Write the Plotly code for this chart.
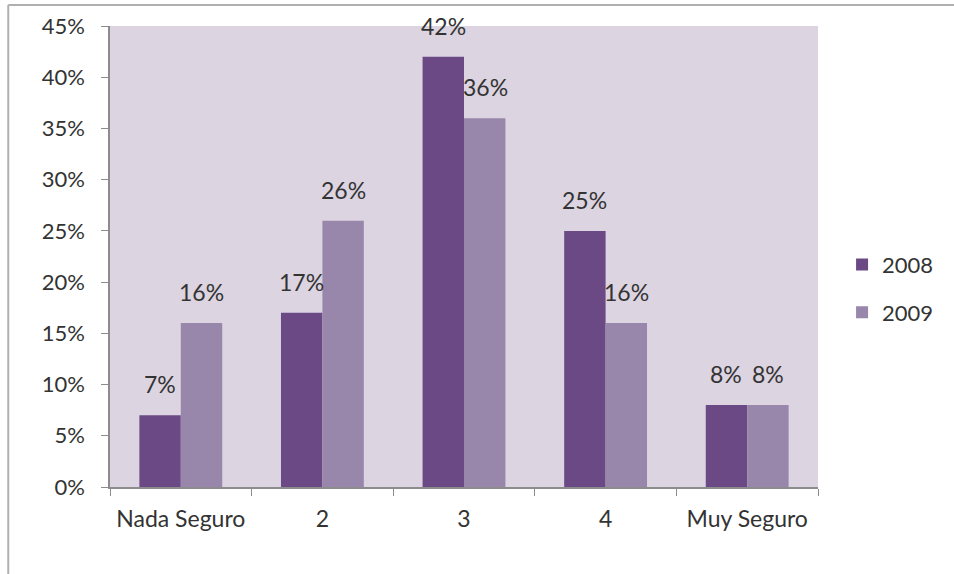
import plotly.graph_objects as go

categories = ["Nada Seguro", "2", "3", "4", "Muy Seguro"]
values_2008 = [7, 17, 42, 25, 8]
values_2009 = [16, 26, 36, 16, 8]
series_names = ["2008", "2009"]
y_ticks = [0, 5, 10, 15, 20, 25, 30, 35, 40, 45]

c2008 = "#6a4985"
c2009 = "#9886ab"
font_family = "Lato, 'Open Sans', sans-serif"
text_color = "#333333"

fig = go.Figure()
fig.add_trace(go.Bar(x=categories, y=values_2008, name=series_names[0],
                     marker=dict(color=c2008, line=dict(width=0)),
                     legendgroup="a"))
fig.add_trace(go.Bar(x=categories, y=values_2009, name=series_names[1],
                     marker=dict(color=c2009, line=dict(width=0)),
                     legendgroup="b"))

annotations = []
for vals, shift in ((values_2008, -21), (values_2009, 21)):
    for i, v in enumerate(vals):
        annotations.append(dict(x=i, y=v, xref="x", yref="y", text=f"{v}%",
                                showarrow=False, xshift=shift, yshift=15,
                                yanchor="bottom",
                                font=dict(size=23, color=text_color, family=font_family)))

fig.update_layout(
    width=954, height=574,
    margin=dict(l=110, r=136, t=26, b=87, autoexpand=False),
    paper_bgcolor="white",
    plot_bgcolor="#dcd4e1",
    barmode="group",
    bargap=0.415,
    bargroupgap=0,
    font=dict(family=font_family, size=21, color=text_color),
    showlegend=True,
    legend=dict(x=1.034, y=0.43, xanchor="left", yanchor="middle",
                traceorder="grouped", tracegroupgap=16,
                font=dict(size=22, color=text_color),
                itemwidth=30, bgcolor="rgba(0,0,0,0)"),
    annotations=annotations,
    xaxis=dict(type="category", showgrid=False, showline=True, linecolor="#8c8c8c", linewidth=1.5,
               ticks="outside", tickson="boundaries", ticklen=7, tickcolor="#8c8c8c",
               ticklabelstandoff=11, tickangle=0, automargin=False,
               tickfont=dict(size=23, color=text_color)),
    yaxis=dict(range=[0, 45], tickvals=y_ticks, ticktext=[f"{t}%" for t in y_ticks],
               showgrid=False, showline=True, linecolor="#8c8c8c", linewidth=1.5,
               ticks="outside", ticklen=7, tickcolor="#8c8c8c", zeroline=False,
               ticklabelstandoff=12, automargin=False,
               tickfont=dict(size=22, color=text_color)),
    shapes=[
        dict(type="line", xref="paper", yref="paper", x0=-0.1437, x1=-0.1437,
             y0=-0.2, y1=1.0456, line=dict(color="#b0b0b0", width=2)),
        dict(type="line", xref="paper", yref="paper", x0=-0.1437, x1=1.2,
             y0=1.0456, y1=1.0456, line=dict(color="#b0b0b0", width=2)),
    ],
)

fig.write_html("out.html")
